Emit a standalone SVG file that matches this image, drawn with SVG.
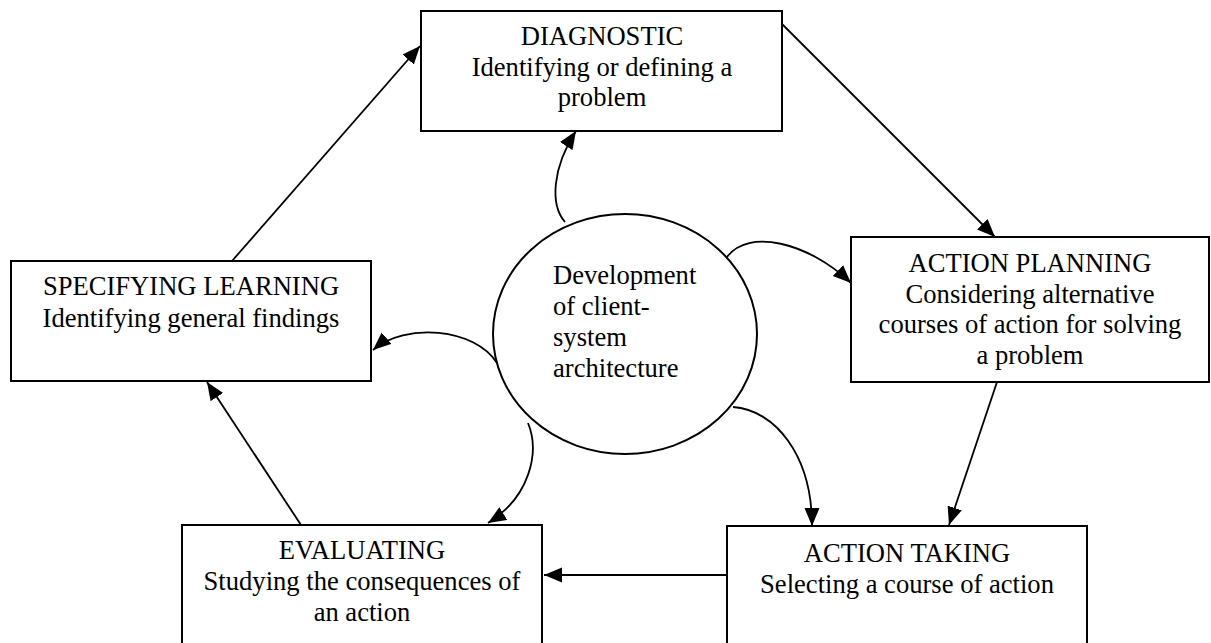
<svg xmlns="http://www.w3.org/2000/svg" width="1211" height="643" viewBox="0 0 1211 643">
<defs>
<marker id="ah" markerUnits="userSpaceOnUse" markerWidth="20" markerHeight="16" refX="18" refY="7.5" orient="auto">
<path d="M0,0 L18,7.5 L0,15 z" fill="#000"/>
</marker>
<style>
.box{fill:#fff;stroke:#000;stroke-width:2}
.t{font-family:"Liberation Serif","Times New Roman",serif;font-size:26.6px;fill:#000}
.c{text-anchor:middle}
.ln{fill:none;stroke:#000;stroke-width:1.8;marker-end:url(#ah)}
</style>
</defs>
<rect width="1211" height="643" fill="#fff"/>
<g id="connectors">
<path class="ln" d="M232,261 L420,46"/>
<path class="ln" d="M781,23 L995,237"/>
<path class="ln" d="M997,382 L949,525"/>
<path class="ln" d="M727,575 L544,575"/>
<path class="ln" d="M301,525 L207,382"/>
<path class="ln" d="M565,222 C550,205 552,168 576,131"/>
<path class="ln" d="M727,257 C748,228 808,242 851,283"/>
<path class="ln" d="M733,407 C775,410 812,455 812,526"/>
<path class="ln" d="M528,423 C540,452 530,497 488,523"/>
<path class="ln" d="M497,363 C475,328 405,322 373,350"/>
</g>
<g id="diagnostic">
<rect class="box" x="421" y="11" width="361" height="120"/>
<text class="t c" x="602" y="45">DIAGNOSTIC</text>
<text class="t c" x="602" y="76">Identifying or defining a</text>
<text class="t c" x="602" y="106">problem</text>
</g>
<g id="specifying">
<rect class="box" x="11" y="261" width="360" height="120"/>
<text class="t c" x="191" y="295">SPECIFYING LEARNING</text>
<text class="t c" x="191" y="327">Identifying general findings</text>
</g>
<g id="planning">
<rect class="box" x="851" y="237" width="358" height="145"/>
<text class="t c" x="1030" y="272">ACTION PLANNING</text>
<text class="t c" x="1030" y="303">Considering alternative</text>
<text class="t c" x="1030" y="333">courses of action for solving</text>
<text class="t c" x="1030" y="364">a problem</text>
</g>
<g id="taking">
<rect class="box" x="727" y="526" width="360" height="140"/>
<text class="t c" x="907" y="562">ACTION TAKING</text>
<text class="t c" x="907" y="593">Selecting a course of action</text>
</g>
<g id="evaluating">
<rect class="box" x="182" y="525" width="360" height="140"/>
<text class="t c" x="362" y="559">EVALUATING</text>
<text class="t c" x="362" y="590">Studying the consequences of</text>
<text class="t c" x="362" y="621">an action</text>
</g>
<g id="center">
<ellipse cx="625" cy="334" rx="132" ry="120" fill="#fff" stroke="#000" stroke-width="2"/>
<text class="t" x="553" y="284">Development</text>
<text class="t" x="553" y="315">of client-</text>
<text class="t" x="553" y="346">system</text>
<text class="t" x="553" y="377">architecture</text>
</g>
</svg>
